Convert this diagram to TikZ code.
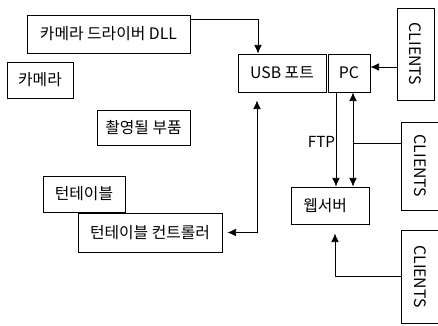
\documentclass[tikz,border=0pt]{standalone}
\usepackage{fontspec}
\setmainfont{Noto Sans CJK KR}
\usetikzlibrary{positioning,arrows.meta}

\begin{document}
\begin{tikzpicture}[>={Latex[length=2.6mm,width=2.3mm]}, x=0.03cm, y=-0.03cm,
    line width=0.65pt,
    blk/.style={draw, inner sep=1pt, font=\fontsize{13.5}{15}\selectfont}]
  \useasboundingbox (0,0) rectangle (438,325);

  % left column
  \node (dll) [blk, minimum width=4.89cm, minimum height=1.14cm] at (108.5,34)
    {카메라 드라이버 DLL};
  \node (cam) [blk, minimum width=1.98cm, minimum height=1.08cm] at (40,80)
    {카메라};
  \node (part) [blk, minimum width=2.79cm, minimum height=1.05cm] at (143.5,127.5)
    {촬영될 부품};
  \node (table) [blk, minimum width=2.46cm, minimum height=1.08cm] at (84,194)
    {턴테이블};
  \node (ctrl) [blk, minimum width=4.32cm, minimum height=1.17cm] at (150,232.5)
    {턴테이블 컨트롤러};

  % PC side
  \node (usb) [blk, minimum width=2.64cm, minimum height=1.14cm] at (282,73)
    {USB 포트};
  \node (pc) [blk, minimum width=1.26cm, minimum height=1.14cm] at (349,73)
    {PC};
  \node (web) [blk, text width=1.6cm, align=left, inner xsep=0.37cm,
               minimum height=1.11cm] at (330,205.5)
    {웹서버};

  % clients
  \node (cl1) [blk, minimum width=1.11cm, minimum height=2.76cm] at (415.5,54)
    {\rotatebox{-90}{CLIENTS}};
  \node (cl2) [blk, minimum width=1.17cm, minimum height=2.64cm] at (420.5,166)
    {\rotatebox{-90}{CLIENTS}};
  \node (cl3) [blk, minimum width=1.17cm, minimum height=2.79cm] at (420.5,276.5)
    {\rotatebox{-90}{CLIENTS}};

  \coordinate (fa) at ([shift={(-13,0)}]pc.south);
  \coordinate (fb) at ([shift={(4,0)}]pc.south);
  \coordinate (c2) at ([shift={(0,-23)}]cl2.west);

  \draw[->] ([shift={(0,-15)}]dll.east) -| ([shift={(-24,0)}]usb.north);
  \draw[<->, shorten <=2.4mm, shorten >=1.5mm]
    ([shift={(-25,0)}]usb.south) |- (ctrl.east);
  \draw[->] ([shift={(0,13)}]cl1.west) -- ([shift={(0,-6)}]pc.east);
  \draw[->] (fa) -- node[left, pos=.53, inner sep=0.5pt,
                         font=\fontsize{13}{15}\selectfont]{FTP} (fa |- web.north);
  \draw[<->] (fb) -- (fb |- web.north);
  \draw (c2) -- (c2 -| fb);
  \draw[->, shorten >=2.7mm] (cl3.west) -| ([shift={(5,0)}]web.south);
\end{tikzpicture}
\end{document}
